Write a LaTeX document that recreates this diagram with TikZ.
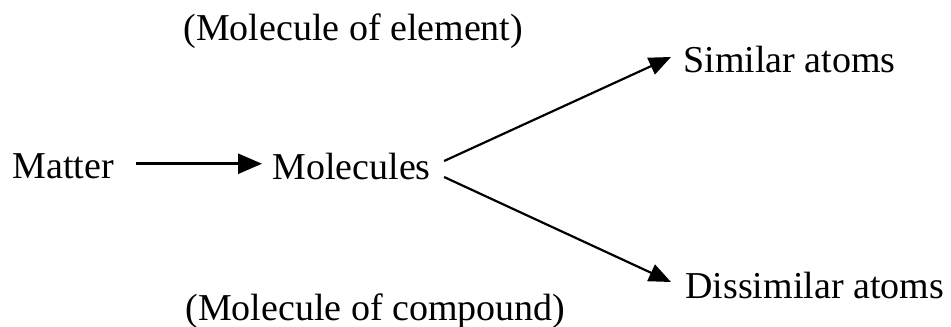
\documentclass[tikz,border=0pt]{standalone}
\usepackage{fontspec}
\setmainfont{Liberation Serif}
\usetikzlibrary{arrows.meta}
\begin{document}
\begin{tikzpicture}[x=0.5pt,y=-0.5pt,
  lbl/.style={anchor=base west,inner sep=0pt,font=\fontsize{19}{22}\selectfont},
  arr/.style={line width=1.3pt,-{Triangle[length=12pt,width=10pt]}},
  darr/.style={line width=1.1pt,-{Triangle[length=11pt,width=9pt]}}]
\fill[white] (0,0) rectangle (951,326);
\useasboundingbox (0,0) rectangle (951,326);
\node[lbl] (elem) at (183,41) {(Molecule of element)};
\node[lbl] (comp) at (185,320) {(Molecule of compound)};
\node[lbl] (matter) at (12,178) {Matter};
\node[lbl] (mol) at (272,179) {Molecules};
\node[lbl] (sim) at (683,73) {Similar atoms};
\node[lbl] (dis) at (685,298) {Dissimilar atoms};
\draw[arr] ([shift={(22,-2)}]matter.east) -- ([xshift=-5pt,yshift=1pt]matter.east -| mol.west);
\draw[darr] ([shift={(13,-5)}]mol.east) -- ([shift={(-12,-3)}]sim.west);
\draw[darr] ([shift={(13,11)}]mol.east) -- ([shift={(-14,-3)}]dis.west);
\end{tikzpicture}
\end{document}
